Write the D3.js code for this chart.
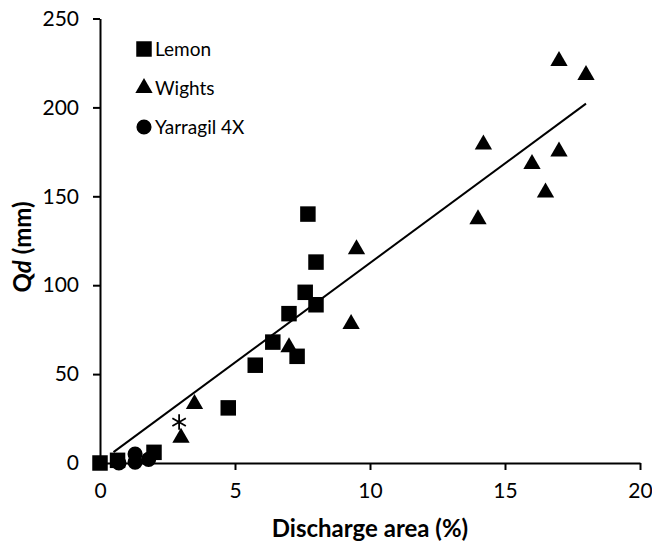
<!DOCTYPE html>
<html>
<head>
<meta charset="utf-8">
<script src="https://cdn.jsdelivr.net/npm/d3@7"></script>
<style>
  body { margin: 0; background: #fff; }
  text { font-family: Lato, "Open Sans", sans-serif; fill: #000; }
</style>
</head>
<body>
<svg width="652" height="545"></svg>
<script>
// data
const lemonX = [0, 0.65, 2.0, 4.75, 5.75, 6.4, 7.0, 7.3, 7.6, 7.7, 8.0, 8.0];
const lemonY = [0, 1.5, 6, 31, 55, 68, 84, 60, 96, 140, 113, 89];
const wightsX = [3.0, 3.5, 7.0, 9.3, 9.5, 14.0, 14.2, 16.0, 16.5, 17.0, 17.0, 18.0];
const wightsY = [15, 34, 66, 79, 121, 138, 180, 169, 153, 176, 227, 219];
const yarragilX = [0.7, 1.3, 1.3, 1.8];
const yarragilY = [0, 0.5, 5, 2];
const starX = [2.93];
const starY = [23];
const fit = { slope: 11.2, intercept: 0.5, from: 0.5, to: 18 };
const xTicks = [0, 5, 10, 15, 20];
const yTicks = [0, 50, 100, 150, 200, 250];

const svg = d3.select('svg');
const mLeft = 100, mRight = 640, mTop = 18.5, mBottom = 463;

const x = d3.scaleLinear().domain([0, 20]).range([mLeft, mRight]);
const y = d3.scaleLinear().domain([0, 250]).range([mBottom, mTop]);

// axes
const xAxis = svg.append('g')
  .attr('transform', `translate(0, ${mBottom})`)
  .call(d3.axisBottom(x).tickValues(xTicks).tickSize(7).tickSizeOuter(0).tickPadding(13));
const yAxis = svg.append('g')
  .attr('transform', `translate(${mLeft}, 0)`)
  .call(d3.axisLeft(y).tickValues(yTicks).tickSize(7).tickSizeOuter(0).tickPadding(14));

[xAxis, yAxis].forEach(a => {
  a.select('.domain').attr('stroke', '#000').attr('stroke-width', 2);
  a.selectAll('.tick line').attr('stroke', '#000').attr('stroke-width', 2);
  a.selectAll('.tick text').style('font-size', '21px').attr('font-family', 'Lato, sans-serif');
});

// trend line
const line = d3.line().x(d => x(d)).y(d => y(fit.slope * d + fit.intercept));
svg.append('path')
  .attr('d', line([fit.from, fit.to]))
  .attr('stroke', '#000').attr('stroke-width', 2).attr('fill', 'none');

// markers
const sq = d3.symbol().type(d3.symbolSquare).size(240);
const tri = d3.symbol().type(d3.symbolTriangle).size(130);
const circ = d3.symbol().type(d3.symbolCircle).size(180);

function drawSeries(xs, ys, sym, dy) {
  svg.append('g').selectAll('path')
    .data(xs.map((v, i) => [v, ys[i]]))
    .join('path')
    .attr('transform', d => `translate(${x(d[0])}, ${y(d[1]) + dy})`)
    .attr('d', sym)
    .attr('fill', '#000');
}
drawSeries(lemonX, lemonY, sq, 0);
drawSeries(wightsX, wightsY, tri, 1.5);
drawSeries(yarragilX, yarragilY, circ, 0);

// asterisk marker
const star = d3.symbol().type(d3.symbolAsterisk || d3.symbolCross).size(170);
svg.append('g').selectAll('path')
  .data(starX.map((v, i) => [v, starY[i]]))
  .join('path')
  .attr('transform', d => `translate(${x(d[0])}, ${y(d[1])})`)
  .attr('d', star)
  .attr('fill', 'none').attr('stroke', '#000').attr('stroke-width', 1.8);

// legend
const legendItems = [['Lemon', sq, 49], ['Wights', tri, 88], ['Yarragil 4X', circ, 127]];
legendItems.forEach(([name, sym, ly]) => {
  svg.append('path')
    .attr('transform', `translate(144, ${ly})`)
    .attr('d', sym).attr('fill', '#000');
  svg.append('text')
    .attr('x', 155).attr('y', ly + 7)
    .style('font-size', '19px')
    .text(name);
});

// axis titles
svg.append('text')
  .attr('x', 370).attr('y', 537)
  .attr('text-anchor', 'middle')
  .style('font-size', '24px').style('font-weight', 'bold')
  .text('Discharge area (%)');

const yt = svg.append('text')
  .attr('transform', 'translate(31, 247) rotate(-90)')
  .attr('text-anchor', 'middle')
  .style('font-size', '24px').style('font-weight', 'bold');
yt.append('tspan').text('Q');
yt.append('tspan').style('font-style', 'italic').text('d');
yt.append('tspan').text(' (mm)');
</script>
</body>
</html>
